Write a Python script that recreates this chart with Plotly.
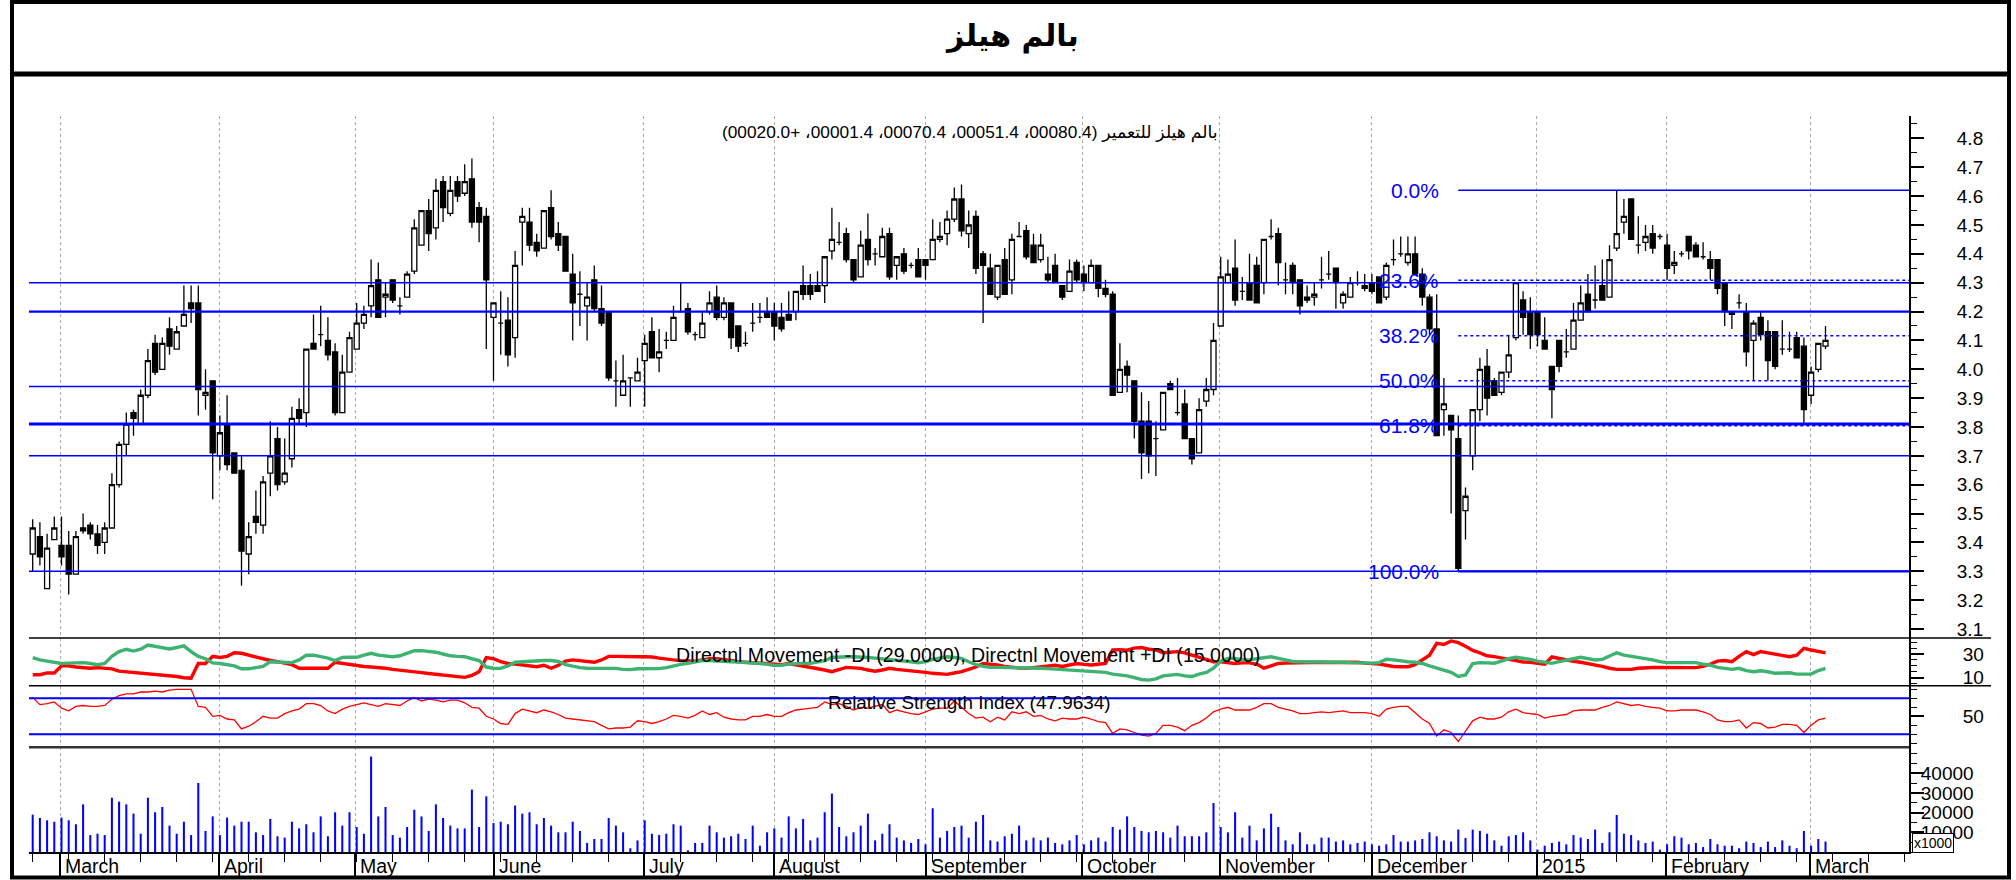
import plotly.graph_objects as go

# ---------------- data ----------------
open_ = [
    3.36, 3.42, 3.24, 3.41, 3.39, 3.39, 3.29, 3.45, 3.46, 3.43,
    3.40, 3.45, 3.60, 3.74, 3.85, 3.81, 3.91, 4.09, 4.00, 4.14,
    4.07, 4.15, 4.23, 4.23, 3.91, 3.96, 3.70, 3.81, 3.71, 3.65,
    3.36, 3.49, 3.46, 3.64, 3.76, 3.61, 3.69, 3.86, 3.85, 4.09,
    4.12, 4.10, 4.06, 3.85, 3.99, 4.07, 4.16, 4.22, 4.31, 4.25,
    4.31, 4.22, 4.25, 4.34, 4.43, 4.55, 4.49, 4.65, 4.54, 4.65,
    4.61, 4.66, 4.56, 4.53, 4.18, 4.16, 4.17, 4.11, 4.51, 4.51,
    4.44, 4.42, 4.56, 4.47, 4.46, 4.33, 4.26, 4.22, 4.31, 4.21,
    4.20, 3.96, 3.91, 3.97, 3.96, 4.03, 4.13, 4.04, 4.10, 4.10,
    4.20, 4.21, 4.12, 4.11, 4.20, 4.25, 4.18, 4.23, 4.15, 4.09,
    4.16, 4.18, 4.20, 4.20, 4.18, 4.19, 4.20, 4.29, 4.29, 4.29,
    4.29, 4.41, 4.44, 4.47, 4.38, 4.32, 4.45, 4.40, 4.39, 4.47,
    4.36, 4.40, 4.36, 4.38, 4.38, 4.38, 4.45, 4.47, 4.52, 4.59,
    4.47, 4.53, 4.40, 4.35, 4.25, 4.38, 4.31, 4.46, 4.48, 4.43,
    4.38, 4.33, 4.36, 4.29, 4.27, 4.37, 4.33, 4.30, 4.36, 4.28,
    4.26, 3.92, 4.01, 3.96, 3.82, 3.82, 3.76, 3.79, 3.95, 3.85,
    3.88, 3.76, 3.71, 3.89, 3.93, 4.15, 4.30, 4.35, 4.27, 4.30,
    4.36, 4.30, 4.46, 4.47, 4.31, 4.36, 4.31, 4.25, 4.25, 4.31,
    4.33, 4.35, 4.23, 4.25, 4.30, 4.29, 4.30, 4.32, 4.25, 4.38,
    4.40, 4.37, 4.40, 4.33, 4.25, 4.14, 3.86, 3.84, 3.76, 3.51,
    3.70, 3.86, 4.01, 3.96, 3.92, 3.99, 4.11, 4.24, 4.20, 4.20,
    4.10, 4.01, 4.10, 4.06, 4.07, 4.17, 4.26, 4.24, 4.29, 4.25,
    4.42, 4.51, 4.59, 4.43, 4.44, 4.47, 4.46, 4.43, 4.36, 4.40,
    4.46, 4.43, 4.39, 4.38, 4.38, 4.30, 4.20, 4.23, 4.20, 4.10,
    4.18, 4.13, 4.13, 4.07, 4.07, 4.11, 4.08, 3.91, 4.00, 4.08,
]
high = [
    3.48, 3.47, 3.43, 3.49, 3.49, 3.44, 3.44, 3.50, 3.47, 3.46,
    3.47, 3.64, 3.75, 3.85, 3.86, 3.93, 4.07, 4.12, 4.11, 4.18,
    4.15, 4.29, 4.29, 4.29, 4.00, 3.96, 3.84, 3.91, 3.71, 3.70,
    3.47, 3.58, 3.63, 3.82, 3.80, 3.76, 3.87, 3.90, 4.07, 4.19,
    4.22, 4.18, 4.09, 4.05, 4.13, 4.23, 4.22, 4.38, 4.37, 4.30,
    4.31, 4.25, 4.34, 4.52, 4.55, 4.59, 4.66, 4.67, 4.67, 4.67,
    4.71, 4.73, 4.58, 4.56, 4.23, 4.27, 4.25, 4.41, 4.56, 4.56,
    4.47, 4.55, 4.62, 4.51, 4.46, 4.40, 4.34, 4.30, 4.36, 4.29,
    4.20, 4.03, 4.05, 3.97, 4.04, 4.12, 4.18, 4.14, 4.13, 4.22,
    4.30, 4.23, 4.13, 4.20, 4.27, 4.29, 4.25, 4.23, 4.15, 4.13,
    4.23, 4.23, 4.25, 4.23, 4.23, 4.27, 4.27, 4.36, 4.33, 4.34,
    4.39, 4.56, 4.51, 4.49, 4.38, 4.48, 4.54, 4.42, 4.49, 4.49,
    4.39, 4.42, 4.37, 4.42, 4.38, 4.52, 4.51, 4.55, 4.63, 4.64,
    4.55, 4.55, 4.41, 4.40, 4.36, 4.42, 4.47, 4.51, 4.50, 4.47,
    4.47, 4.39, 4.40, 4.29, 4.38, 4.38, 4.36, 4.38, 4.36, 4.31,
    4.27, 4.09, 4.03, 3.96, 3.92, 3.89, 3.82, 3.92, 3.96, 3.97,
    3.93, 3.76, 3.90, 3.97, 4.16, 4.39, 4.38, 4.45, 4.32, 4.40,
    4.39, 4.45, 4.52, 4.49, 4.37, 4.37, 4.31, 4.29, 4.30, 4.39,
    4.41, 4.35, 4.27, 4.32, 4.34, 4.33, 4.33, 4.32, 4.37, 4.45,
    4.46, 4.46, 4.46, 4.35, 4.26, 4.26, 3.97, 3.84, 3.84, 3.59,
    3.86, 4.04, 4.07, 3.97, 3.99, 4.12, 4.30, 4.27, 4.25, 4.20,
    4.18, 4.01, 4.10, 4.14, 4.23, 4.29, 4.33, 4.36, 4.38, 4.43,
    4.62, 4.59, 4.59, 4.53, 4.50, 4.50, 4.47, 4.47, 4.41, 4.41,
    4.46, 4.44, 4.44, 4.41, 4.38, 4.30, 4.20, 4.26, 4.23, 4.17,
    4.20, 4.17, 4.13, 4.17, 4.13, 4.13, 4.11, 4.01, 4.09, 4.15,
]
low = [
    3.30, 3.32, 3.24, 3.41, 3.32, 3.22, 3.29, 3.43, 3.41, 3.36,
    3.36, 3.45, 3.59, 3.70, 3.77, 3.81, 3.90, 3.98, 4.00, 4.05,
    4.07, 4.15, 4.16, 3.84, 3.86, 3.55, 3.65, 3.65, 3.64, 3.25,
    3.29, 3.43, 3.43, 3.56, 3.58, 3.60, 3.66, 3.81, 3.80, 4.07,
    4.08, 4.03, 3.84, 3.85, 3.99, 4.07, 4.14, 4.18, 4.18, 4.18,
    4.23, 4.19, 4.25, 4.33, 4.43, 4.41, 4.45, 4.51, 4.53, 4.58,
    4.60, 4.49, 4.44, 4.07, 3.96, 4.05, 4.01, 4.04, 4.36, 4.41,
    4.39, 4.42, 4.45, 4.41, 4.34, 4.10, 4.15, 4.10, 4.20, 4.15,
    3.96, 3.87, 3.91, 3.87, 3.96, 3.87, 4.04, 3.99, 4.07, 4.10,
    4.20, 4.12, 4.10, 4.11, 4.19, 4.17, 4.17, 4.07, 4.06, 4.08,
    4.13, 4.16, 4.18, 4.10, 4.13, 4.17, 4.17, 4.24, 4.24, 4.27,
    4.23, 4.38, 4.43, 4.37, 4.30, 4.32, 4.36, 4.36, 4.39, 4.31,
    4.31, 4.33, 4.35, 4.32, 4.31, 4.38, 4.44, 4.43, 4.51, 4.46,
    4.42, 4.33, 4.16, 4.26, 4.24, 4.26, 4.26, 4.46, 4.38, 4.37,
    4.37, 4.30, 4.30, 4.24, 4.27, 4.30, 4.27, 4.30, 4.25, 4.25,
    3.91, 3.92, 3.92, 3.76, 3.62, 3.64, 3.63, 3.79, 3.93, 3.84,
    3.76, 3.67, 3.71, 3.87, 3.91, 4.15, 4.30, 4.22, 4.24, 4.24,
    4.23, 4.26, 4.45, 4.29, 4.26, 4.26, 4.19, 4.23, 4.22, 4.28,
    4.31, 4.21, 4.21, 4.25, 4.29, 4.27, 4.26, 4.23, 4.24, 4.36,
    4.39, 4.36, 4.33, 4.22, 4.12, 3.77, 3.77, 3.50, 3.30, 3.41,
    3.65, 3.82, 3.84, 3.91, 3.91, 3.97, 4.10, 4.12, 4.07, 4.08,
    4.07, 3.83, 3.99, 4.04, 4.07, 4.17, 4.20, 4.21, 4.24, 4.25,
    4.41, 4.47, 4.45, 4.40, 4.41, 4.40, 4.45, 4.31, 4.33, 4.39,
    4.38, 4.39, 4.38, 4.31, 4.26, 4.15, 4.14, 4.21, 4.01, 3.96,
    4.10, 3.96, 4.00, 4.05, 4.06, 4.04, 3.81, 3.88, 3.99, 4.07,
]
close = [
    3.45, 3.35, 3.38, 3.45, 3.35, 3.29, 3.42, 3.44, 3.43, 3.39,
    3.45, 3.60, 3.74, 3.81, 3.83, 3.91, 4.03, 3.99, 4.09, 4.08,
    4.13, 4.19, 4.21, 3.93, 3.92, 3.71, 3.78, 3.67, 3.64, 3.37,
    3.42, 3.47, 3.61, 3.70, 3.60, 3.64, 3.83, 3.83, 4.07, 4.07,
    4.12, 4.05, 3.85, 3.99, 4.11, 4.16, 4.19, 4.29, 4.18, 4.26,
    4.24, 4.22, 4.33, 4.49, 4.55, 4.47, 4.62, 4.56, 4.62, 4.60,
    4.65, 4.51, 4.51, 4.31, 4.23, 4.16, 4.05, 4.36, 4.53, 4.43,
    4.41, 4.55, 4.46, 4.43, 4.34, 4.23, 4.26, 4.25, 4.21, 4.16,
    3.97, 3.96, 3.96, 3.97, 3.99, 4.09, 4.04, 4.06, 4.10, 4.18,
    4.20, 4.13, 4.12, 4.16, 4.23, 4.18, 4.23, 4.11, 4.08, 4.09,
    4.16, 4.18, 4.18, 4.15, 4.14, 4.17, 4.27, 4.26, 4.26, 4.27,
    4.39, 4.45, 4.44, 4.38, 4.31, 4.43, 4.38, 4.40, 4.46, 4.32,
    4.39, 4.34, 4.36, 4.32, 4.36, 4.45, 4.46, 4.52, 4.59, 4.48,
    4.50, 4.35, 4.36, 4.26, 4.36, 4.26, 4.45, 4.46, 4.39, 4.37,
    4.43, 4.31, 4.30, 4.25, 4.34, 4.31, 4.30, 4.36, 4.28, 4.26,
    3.91, 4.00, 3.98, 3.82, 3.71, 3.70, 3.76, 3.92, 3.93, 3.85,
    3.76, 3.69, 3.86, 3.93, 4.10, 4.32, 4.33, 4.24, 4.27, 4.24,
    4.23, 4.45, 4.46, 4.37, 4.31, 4.30, 4.22, 4.24, 4.26, 4.31,
    4.33, 4.30, 4.26, 4.30, 4.30, 4.28, 4.27, 4.23, 4.36, 4.38,
    4.40, 4.40, 4.33, 4.25, 4.14, 3.77, 3.88, 3.79, 3.31, 3.56,
    3.86, 4.00, 3.90, 3.91, 3.99, 4.05, 4.30, 4.18, 4.12, 4.12,
    4.07, 3.93, 4.01, 4.06, 4.17, 4.23, 4.20, 4.24, 4.24, 4.38,
    4.47, 4.53, 4.45, 4.43, 4.46, 4.42, 4.46, 4.35, 4.37, 4.40,
    4.41, 4.39, 4.39, 4.35, 4.28, 4.20, 4.19, 4.23, 4.06, 4.16,
    4.12, 4.03, 4.01, 4.07, 4.07, 4.04, 3.86, 3.99, 4.09, 4.10,
]
volume = [  # in thousands (axis shows x1000)
    19000, 17300, 16100, 15400, 17500, 16100, 14100, 24200, 8600, 9300,
    8600, 27600, 25600, 24200, 19500, 9300, 27600, 20200, 22900, 13400,
    9300, 15400, 8600, 35100, 10700, 18100, 8600, 17500, 13400, 15400,
    15400, 10000, 8600, 16800, 8000, 7300, 15400, 12000, 14100, 10000,
    18100, 8000, 20200, 13400, 20200, 12700, 9300, 48600, 18100, 22900,
    8600, 7300, 12700, 21500, 18100, 10700, 24200, 17300, 13400, 12000,
    12000, 31700, 12700, 28300, 14700, 15400, 14100, 23600, 19500, 20200,
    14100, 17300, 13400, 10000, 10000, 15400, 10700, 4600, 6600, 6600,
    17300, 13400, 10000, 1900, 5900, 16100, 9300, 8600, 9300, 14100,
    13400, 500, 4600, 4600, 13400, 10000, 7300, 8000, 9300, 6600,
    13400, 3200, 10000, 12000, 7300, 18100, 12000, 16800, 5900, 7300,
    20200, 29700, 12700, 8000, 10000, 13400, 19500, 5900, 9300, 14100,
    7300, 5900, 4600, 6600, 3900, 22200, 7300, 10700, 12700, 13400,
    7300, 15400, 18800, 5900, 5300, 8000, 9300, 13400, 5900, 7300,
    5900, 7300, 4600, 3900, 5900, 8600, 3900, 5900, 7300, 5300,
    12700, 11400, 18100, 12700, 10700, 10000, 10700, 10000, 7300, 13400,
    8000, 8000, 8000, 10000, 24900, 12700, 10000, 20200, 7300, 13400,
    5900, 12000, 19500, 12700, 5900, 3900, 10000, 3900, 3900, 7300,
    7300, 5300, 5900, 3900, 4600, 5300, 3900, 3200, 3900, 8600,
    5300, 5300, 5900, 6600, 10000, 8000, 5900, 5300, 11400, 7100,
    11400, 10700, 9300, 5900, 3200, 8000, 8600, 10000, 5900, 1200,
    3200, 4600, 5300, 3900, 8600, 7300, 6600, 11400, 4600, 10000,
    18800, 9300, 8600, 5900, 4600, 5300, 1200, 3900, 8000, 7300,
    3900, 4600, 2500, 6600, 3900, 3200, 3200, 1900, 5300, 4600,
    2500, 5300, 2500, 5900, 3200, 1900, 10700, 3200, 6600, 5300,
]
minus_di = [
    12.5, 12.5, 14, 14, 20, 20, 19, 18.5, 18, 18.5,
    18, 17.5, 15.5, 15, 14.5, 14, 13.5, 13, 12.5, 11.5,
    11, 10, 9.5, 22, 22, 28, 27, 28, 31, 30.6,
    29, 28, 26, 24.5, 23.5, 22.5, 21, 18, 18, 18,
    18, 18, 23, 22, 21, 20, 19.5, 19, 18.7, 18,
    17, 16.5, 16, 15, 14.3, 13.5, 13, 12.3, 11.5, 11,
    10.3, 12, 15, 27, 26, 23.5, 22, 21.5, 20.7, 20,
    19.3, 20.5, 18, 20.5, 24, 25, 24.4, 23.5, 23, 25,
    28, 28, 27.7, 27.7, 27.7, 27.7, 27.5, 26.5, 25.5, 25,
    24.4, 24, 24, 25, 26, 26, 25.5, 24.5, 23.5, 23,
    22.7, 22, 21.5, 21, 21, 22, 21, 20, 19, 18,
    16.5, 15.1, 17, 18.7, 18.3, 17.9, 16.5, 15.5, 16.5, 17.9,
    17, 16.5, 16, 15.3, 14.5, 13.7, 13.2, 12.8, 14, 15.1,
    17, 19, 22, 21.5, 20.7, 19.5, 18.7, 18.2, 17.9, 18.5,
    19.5, 20.2, 20.5, 19.5, 20.5, 22, 21.2, 20.7, 21.3, 22,
    33.4, 33.7, 33.2, 35, 35.5, 34, 33.5, 31, 31.5, 32,
    31, 29, 27.7, 25.5, 23.5, 23.5, 23, 22, 22.5, 22.5,
    21.5, 18, 20, 22, 22.3, 22.5, 22.8, 23, 23.3, 23,
    22.8, 23, 23.3, 23.5, 23, 22.3, 22, 21.5, 20.5, 19.5,
    19.3, 19.3, 21, 25, 29, 39, 38, 41, 39.6, 36.5,
    33, 31, 28.5, 27.8, 27, 25.5, 24.5, 23.2, 23, 22.5,
    21.3, 27.5, 26.3, 24.5, 23.8, 23, 22, 21, 19.5, 18,
    17, 17, 17, 18, 18.5, 18.6, 18.7, 18.5, 18.5, 18.5,
    18.5, 18.5, 19.5, 21.5, 24, 24.5, 23.5, 28, 32, 29.5,
    32, 31, 30, 28.5, 27.7, 29, 34.8, 33.4, 32, 31,
]
plus_di = [
    27, 25, 24, 23, 22, 22.3, 22.5, 22.7, 22, 21,
    22, 28, 32, 34, 32.5, 34, 37.6, 36.5, 35, 34.2,
    35.5, 36.8, 32, 28, 26, 22.5, 22, 21, 20, 17.5,
    17.5, 18.5, 19.5, 23.5, 23.2, 22.9, 22.7, 25, 29, 29,
    28, 26.5, 24.4, 27, 27.2, 27.2, 29, 30.6, 29, 28,
    27.7, 28.5, 31, 32.8, 32.8, 32.5, 31.5, 30, 28.5, 28,
    27.7, 26, 24.5, 19, 18, 17.9, 20, 23, 23.5, 23.5,
    24, 24.5, 24.5, 23.7, 21, 19.5, 18.5, 18, 18, 18,
    17.9, 17.9, 17, 16.8, 17.5, 17.6, 17.3, 17.7, 18.5, 20,
    21.3, 22.1, 23, 24.5, 24.5, 24, 23.5, 23.5, 23.3, 23,
    22.7, 22, 21.5, 20.3, 20.5, 21.5, 22.1, 22.1, 22.1, 23,
    24.4, 27, 27.5, 27.7, 27.7, 27.7, 27, 26.5, 26, 25.5,
    25, 24.4, 23.5, 22.5, 23.5, 25.5, 26.5, 27.7, 27, 26.3,
    23.5, 21, 19.5, 18.7, 18.7, 18.7, 18.7, 18.6, 18.5, 18.5,
    18, 17.7, 17.3, 17, 16.8, 16.5, 16, 15.5, 15.1, 14.5,
    13, 12.3, 11.5, 10, 8.5, 8, 9, 11.5, 12.5, 12.8,
    11.5, 11, 13, 14.5, 18, 24, 26.3, 26.3, 25, 25,
    26, 26.5, 27.7, 26.3, 25, 23.7, 23.5, 23.5, 23.5, 23.5,
    23.5, 23.3, 23, 22.7, 22.5, 22.2, 22.3, 22.7, 25.5, 25,
    24, 23.5, 23, 22, 20, 18, 16.5, 14.5, 11, 12.3,
    22, 22.7, 22.5, 22.2, 24, 26, 27.2, 26.5, 25.5, 24,
    23, 22.1, 23.5, 25, 26, 27.2, 26, 25, 25.5, 28,
    31, 29, 28, 27.2, 26.3, 25, 23.5, 22.7, 22.7, 22.7,
    22.7, 22.7, 21.5, 20.7, 18.7, 18, 17, 17.9, 16, 15.1,
    15.9, 15, 13.7, 14, 14.2, 13, 12.8, 13.1, 16, 17.9,
]
rsi = [
    71, 63, 64, 66, 59, 56, 61, 62, 61, 61,
    62, 69, 73, 75, 75, 77, 77, 78, 77, 79,
    80, 80, 80, 61, 60, 50, 51, 47, 46, 36,
    39, 44, 50, 48, 48, 53, 56, 58, 64, 64,
    62, 56, 53, 58, 61, 63, 65, 63, 61, 64,
    63, 62, 67, 71, 67, 69, 68, 66, 68, 68,
    65, 60, 59, 50, 47, 42, 41, 53, 58, 56,
    54, 57, 55, 52, 48, 47, 46, 45, 44, 40,
    36, 37, 37, 38, 45, 44, 42, 44, 47, 51,
    50, 48, 51, 56, 52, 54, 49, 47, 46, 46,
    50, 50, 52, 50, 50, 54, 57, 58, 59, 60,
    66, 63, 64, 61, 57, 60, 59, 61, 63, 54,
    57, 55, 53, 52, 55, 58, 59, 59, 67, 60,
    53, 48, 49, 44, 49, 46, 55, 53, 55, 50,
    51, 47, 45, 48, 47, 47, 49, 47, 44, 43,
    31, 36, 35, 32, 29, 28, 31, 40, 40, 38,
    34, 40, 43, 48, 55, 58, 60, 57, 57, 57,
    60, 64, 64, 60, 58, 56, 53, 53, 54, 55,
    54, 55, 56, 54, 54, 54, 53, 50, 58, 60,
    61, 61, 54, 47, 42, 28, 35, 32, 22, 34,
    45, 49, 47, 47, 49, 55, 58, 54, 53, 52,
    48, 50, 51, 52, 56, 57, 57, 57, 60, 62,
    66, 64, 62, 63, 61, 60, 59, 56, 56, 57,
    57, 57, 55, 52, 46, 44, 44, 46, 37, 43,
    42, 37, 38, 41, 41, 40, 32, 40, 46, 47.96,
]
for arr in (open_, high, low, close, volume, minus_di, plus_di, rsi):
    assert len(arr) == 250, len(arr)

month_labels = ["March", "April", "May", "June", "July", "August", "September",
                "October", "November", "December", "2015", "February", "March"]
month_pos = [3.8, 25.9, 44.8, 64.0, 84.9, 103.0, 124.0, 145.8, 164.9, 186.0,
             208.9, 226.9, 246.9]

support_levels = [4.30, 4.20, 3.94, 3.81, 3.70, 3.30]
fib_high = 4.62
fib_low = 3.30
fib_start = 198
fib_ratios = [0.0, 0.236, 0.382, 0.5, 0.618, 1.0]
fib_labels = ["0.0%", "23.6%", "38.2%", "50.0%", "61.8%", "100.0%"]
rsi_bands = [70, 30]
volume_ticks = [10000, 20000, 30000, 40000]
dmi_ticks = [10, 30]
rsi_ticks = [50]

title_text = "بالم هيلز"
header_text = "(00020.0+ ،00001.4 ،00070.4 ،00051.4 ،00080.4) بالم هيلز للتعمير"
dmi_label = "Directnl Movement -DI (29.0000), Directnl Movement +DI (15.0000)"
rsi_label = "Relative Strength Index (47.9634)"

# ---------------- layout geometry (pixels) ----------------
W, H = 2016, 880
PL, PR, PT, PB = 29, 1909, 116, 852
Y_PRICE_BOT, Y_DMI_BOT, Y_RSI_BOT = 638, 685.7, 747.3
X0, DX = 32.7, 7.2           # pixel of first candle, pixels per candle


def xp(px):
    return (px - PL) / (PR - PL)


def yp(py):
    return (PB - py) / (PB - PT)


x = list(range(len(close)))
x_range = [(PL - X0) / DX, (PR - X0) / DX]


def price_at(py):
    return 4.30 - (py - 282.7) / 288.6


def dmi_at(py):
    return 30 - (py - 654) / 1.185


def rsi_at(py):
    return 70 - (py - 698.3) / 0.9


vol_top = (PB - Y_RSI_BOT) / 19.67 * 10000

FONT = "Liberation Sans, Arial, DejaVu Sans, sans-serif"
BLUE = "#0000ff"

fig = go.Figure()

fig.add_trace(go.Candlestick(
    x=x, open=open_, high=high, low=low, close=close,
    increasing=dict(line=dict(color="black", width=1.3), fillcolor="white"),
    decreasing=dict(line=dict(color="black", width=1.3), fillcolor="black"),
    whiskerwidth=0, xaxis="x", yaxis="y", showlegend=False, hoverinfo="skip"))

fig.add_trace(go.Scatter(x=x, y=minus_di, mode="lines",
                         line=dict(color="#ff0000", width=3.4),
                         xaxis="x2", yaxis="y2", showlegend=False))
fig.add_trace(go.Scatter(x=x, y=plus_di, mode="lines",
                         line=dict(color="#3cb371", width=3.4),
                         xaxis="x2", yaxis="y2", showlegend=False))
fig.add_trace(go.Scatter(x=x, y=rsi, mode="lines",
                         line=dict(color="#ff0000", width=1.3),
                         xaxis="x3", yaxis="y3", showlegend=False))
fig.add_trace(go.Bar(x=x, y=volume, width=0.28,
                     marker=dict(color=BLUE, line=dict(width=0)),
                     xaxis="x4", yaxis="y4", showlegend=False))

grid_x = dict(range=x_range, showgrid=True, gridcolor="#a8a8a8", griddash="dot",
              gridwidth=1, tickmode="array", tickvals=month_pos,
              showticklabels=False, ticks="", zeroline=False, showline=False,
              fixedrange=True, automargin=False)

yfont = dict(family=FONT, size=19, color="black")


def yax(domain, rng, anchor, standoff, **kw):
    d = dict(domain=domain, range=rng, anchor=anchor, side="right",
             showline=True, linecolor="black", linewidth=2,
             ticks="outside", ticklen=13, tickwidth=1.5, tickcolor="black",
             showgrid=False, zeroline=False, tickfont=yfont,
             ticklabelstandoff=standoff, automargin=False)
    d.update(kw)
    return d


fig.update_layout(
    template="none",
    width=W, height=H, autosize=False,
    margin=dict(l=PL, r=W - PR, t=PT, b=H - PB, pad=0, autoexpand=False),
    paper_bgcolor="white", plot_bgcolor="white",
    showlegend=False, boxgap=0.3, boxgroupgap=0,
    font=dict(family=FONT, color="black"),
    xaxis=dict(grid_x, anchor="y", rangeslider=dict(visible=False)),
    xaxis2=dict(grid_x, anchor="y2", matches="x"),
    xaxis3=dict(grid_x, anchor="y3", matches="x"),
    xaxis4=dict(grid_x, anchor="y4", matches="x", showline=True,
                linecolor="black", linewidth=1.5, ticks="outside",
                ticklen=24, tickwidth=1.5, tickcolor="black",
                minor=dict(tickmode="linear", tick0=0, dtick=5,
                           ticks="outside", ticklen=8, tickwidth=1.3,
                           tickcolor="black", showgrid=False)),
    yaxis=yax([yp(Y_PRICE_BOT), 1], [price_at(Y_PRICE_BOT), price_at(PT)], "x", 29,
              tickmode="linear", tick0=3.0, dtick=0.1, tickformat=".1f",
              minor=dict(tickmode="linear", tick0=3.0, dtick=0.05, ticks="outside",
                         ticklen=6, tickwidth=1.2, tickcolor="black")),
    yaxis2=yax([yp(Y_DMI_BOT), yp(Y_PRICE_BOT)], [dmi_at(Y_DMI_BOT), dmi_at(Y_PRICE_BOT)],
               "x2", 35, tickmode="array", tickvals=dmi_ticks,
               ticktext=[str(v) for v in dmi_ticks],
               minor=dict(tickmode="linear", tick0=0, dtick=5, ticks="outside",
                          ticklen=6, tickwidth=1.2, tickcolor="black")),
    yaxis3=yax([yp(Y_RSI_BOT), yp(Y_DMI_BOT)], [rsi_at(Y_RSI_BOT), rsi_at(Y_DMI_BOT)],
               "x3", 35, tickmode="array", tickvals=rsi_ticks,
               ticktext=[str(v) for v in rsi_ticks],
               minor=dict(tickmode="linear", tick0=0, dtick=10, ticks="outside",
                          ticklen=6, tickwidth=1.2, tickcolor="black")),
    yaxis4=yax([0, yp(Y_RSI_BOT)], [0, vol_top], "x4", -7, tickmode="array",
               tickvals=volume_ticks, ticktext=[str(v) for v in volume_ticks],
               minor=dict(tickmode="linear", tick0=0, dtick=5000, ticks="outside",
                          ticklen=6, tickwidth=1.2, tickcolor="black")),
)

shapes = []
# outer frame and title separator
shapes.append(dict(type="rect", xref="paper", yref="paper",
                   x0=xp(12), x1=xp(2009), y0=yp(H - 2.5), y1=yp(2),
                   line=dict(color="black", width=4)))
shapes.append(dict(type="line", xref="paper", yref="paper",
                   x0=xp(12), x1=xp(2009), y0=yp(74), y1=yp(74),
                   line=dict(color="black", width=5)))
# panel separators
for py, x1, w, col in [(Y_PRICE_BOT, 1991, 1.5, "black"),
                       (Y_DMI_BOT, 1991, 1.5, "black"),
                       (Y_RSI_BOT, PR, 2.5, "#333333")]:
    shapes.append(dict(type="line", xref="paper", yref="paper",
                       x0=0, x1=xp(x1), y0=yp(py), y1=yp(py),
                       line=dict(color=col, width=w)))
# horizontal support / resistance lines
level_widths = [1.5, 2.2, 1.5, 3.0, 1.5, 1.5]
for lv, w in zip(support_levels, level_widths):
    shapes.append(dict(type="line", xref="paper", yref="y", x0=0, x1=1,
                       y0=lv, y1=lv, line=dict(color=BLUE, width=w)))
# Fibonacci retracement
for r in fib_ratios:
    lv = fib_high - (fib_high - fib_low) * r
    solid = r in (0.0, 1.0)
    shapes.append(dict(type="line", xref="x", yref="y", x0=fib_start, x1=x_range[1],
                       y0=lv, y1=lv,
                       line=dict(color=BLUE, width=2.2 if r == 1.0 else 1.5,
                                 dash="solid" if solid else "dot")))
# RSI bands
for b in rsi_bands:
    shapes.append(dict(type="line", xref="paper", yref="y3", x0=0, x1=1,
                       y0=b, y1=b, line=dict(color=BLUE, width=2)))
fig.update_layout(shapes=shapes)

ann = []
ann.append(dict(text="<b>" + title_text + "</b>", xref="paper", yref="paper",
                x=xp(1012), y=yp(36), showarrow=False, xanchor="center", yanchor="middle",
                font=dict(family="DejaVu Sans, sans-serif", size=30, color="black")))
ann.append(dict(text=header_text, xref="paper", yref="paper",
                x=xp(970), y=yp(132), showarrow=False, xanchor="center", yanchor="middle",
                font=dict(family=FONT, size=17.3, color="black")))
ann.append(dict(text=dmi_label, xref="paper", yref="paper",
                x=xp(968), y=yp(655), showarrow=False, xanchor="center", yanchor="middle",
                font=dict(family=FONT, size=19.6, color="black")))
ann.append(dict(text=rsi_label, xref="paper", yref="paper",
                x=xp(969), y=yp(702), showarrow=False, xanchor="center", yanchor="middle",
                font=dict(family=FONT, size=18.9, color="black")))
for r, lab in zip(fib_ratios, fib_labels):
    lv = fib_high - (fib_high - fib_low) * r
    ann.append(dict(text=lab, xref="x", yref="y", x=(1441 - X0) / DX, y=lv,
                    showarrow=False, xanchor="right", yanchor="middle",
                    font=dict(family=FONT, size=21, color=BLUE)))
for pos, lab in zip(month_pos, month_labels):
    ann.append(dict(text=lab, xref="x4", yref="paper", x=pos, y=yp(866),
                    xshift=3, showarrow=False, xanchor="left", yanchor="middle",
                    font=dict(family=FONT, size=19.5, color="black")))
ann.append(dict(text="x1000", xref="paper", yref="paper", x=xp(1933), y=yp(843),
                showarrow=False, xanchor="center", yanchor="middle",
                bordercolor="black", borderwidth=1, borderpad=1, bgcolor="white",
                font=dict(family=FONT, size=14, color="black")))
fig.update_layout(annotations=ann)

fig.write_html("out.html")
